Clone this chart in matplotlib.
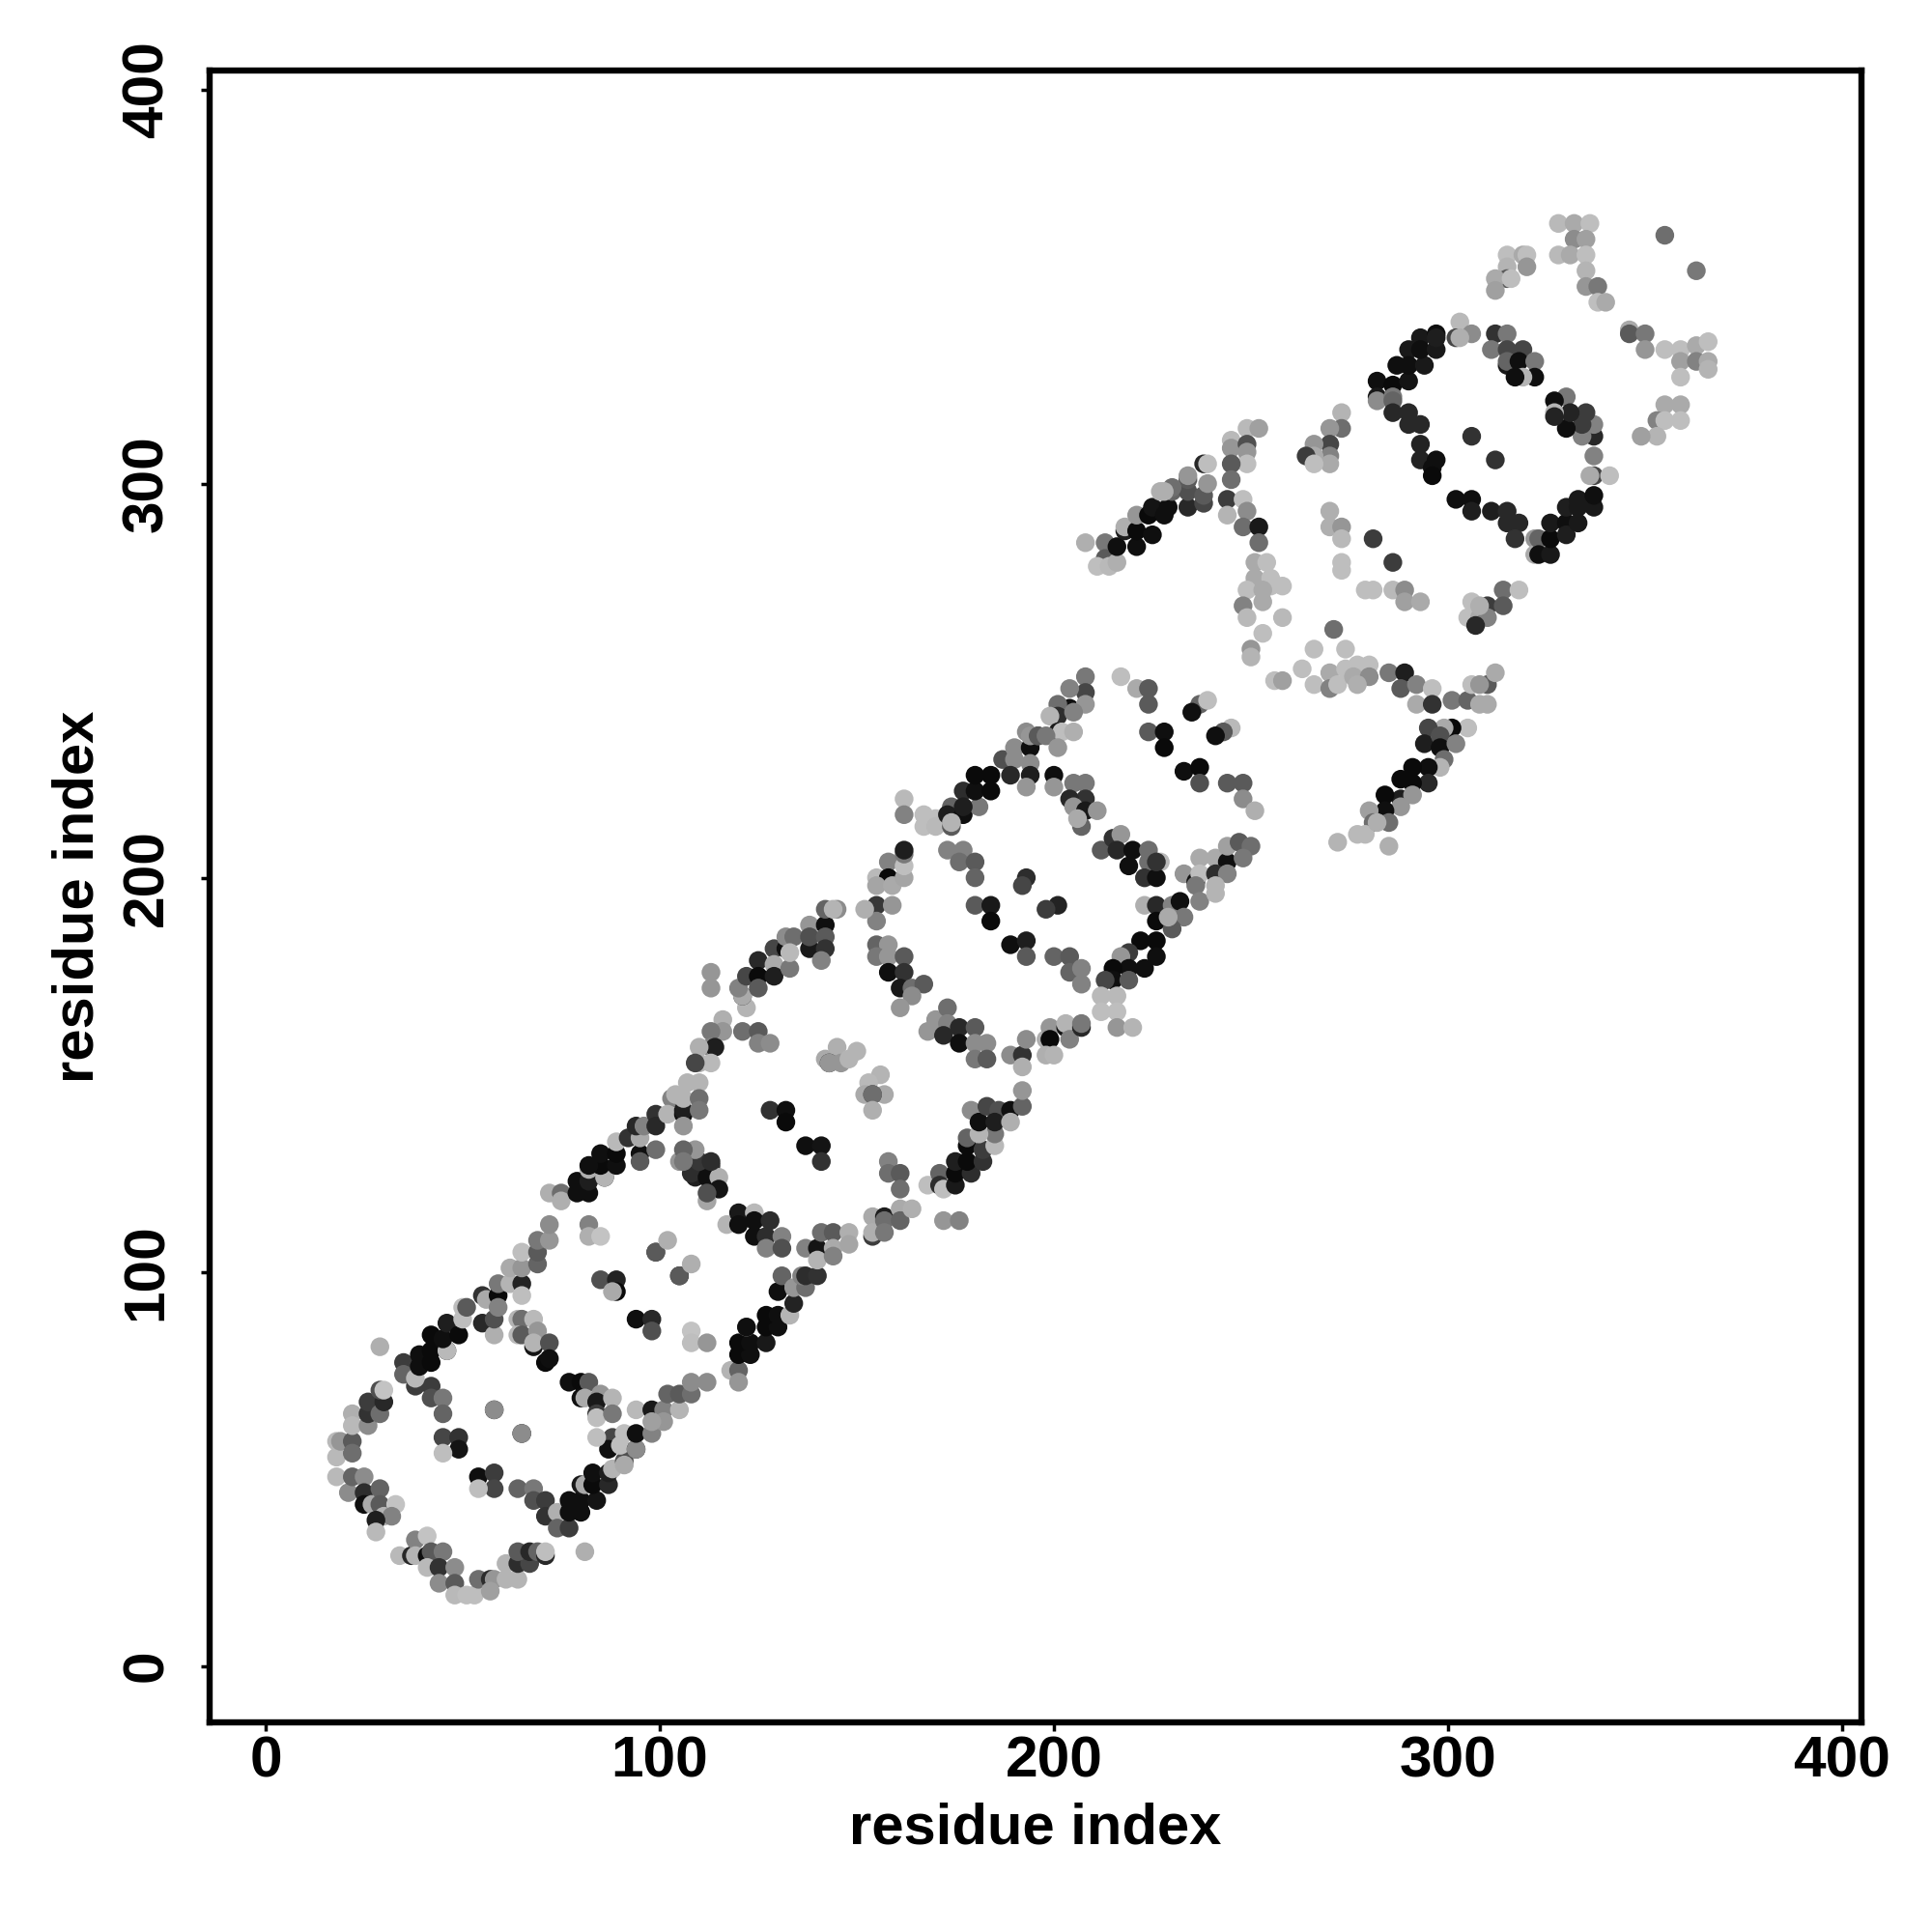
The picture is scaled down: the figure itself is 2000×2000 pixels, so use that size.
import matplotlib
matplotlib.use('Agg')
import matplotlib.pyplot as plt

plt.rcParams['font.family'] = ['Liberation Sans', 'DejaVu Sans']
plt.rcParams['font.weight'] = 'bold'

# each point is (residue i, residue j, grey level 0-255)
first_loop = [
    (18,53,185),(18,48,185),(18,57,185),(19,57,150),(22,57,90),(22,54,110),(22,64,175),(22,61,185),
    (26,61,140),(26,64,50),(26,67,60),(29,64,110),(30,67,40),(29,70,80),(30,70,195),
    (21,44,140),(22,48,100),(25,48,140),(25,44,45),(25,41,15),(27,41,170),(29,45,100),(29,41,90),
    (33,41,195),(30,38,180),(32,38,130),(28,37,30),(28,34,185),
    (34,28,185),(37,28,40),(38,32,130),(41,33,195),(38,28,180),(41,28,15),(42,29,90),(45,29,120),
    (41,25,185),(44,25,50),(48,25,140),(44,21,140),(48,21,90),(48,18,185),(51,18,190),(53,18,190),
    (54,22,110),(57,22,45),(58,22,150),(57,19,160),(61,22,180),(64,22,180),(61,26,180),(64,26,45),
    (67,26,70),(64,29,90),(67,29,40),(69,29,100),(71,28,40),(71,29,190),(81,29,175),
    (58,65,15),(58,65,140),(65,59,15),(65,59,140),(45,58,70),(49,58,50),(49,55,20),(45,54,190),
    (54,48,15),(58,49,60),(58,45,70),(54,45,190),(64,45,100),(68,45,120),(68,42,80),(71,42,60),
    (71,38,50),(74,39,175),(74,35,100),(77,35,60),(77,39,15),
]

first_lower_band = [
    (77,42,15),(80,42,15),(80,39,15),(84,42,20),(80,46,25),(81,46,170),(83,46,10),(83,49,15),
    (87,46,40),(87,49,30),(88,50,180),(91,52,80),(91,51,170),(88,58,70),(87,55,15),(90,56,190),
    (84,58,190),(91,59,190),(94,55,40),(94,55,140),(94,59,15),(98,59,130),(94,65,185),(98,65,25),
    (101,65,130),(101,62,150),(98,62,160),(105,65,180),(102,69,100),(105,69,90),(108,69,110),
    (108,72,140),(112,72,140),(118,75,180),(120,75,100),(120,72,150),(120,79,10),(123,79,15),
    (120,82,10),(123,82,15),(127,82,25),(122,86,170),(122,86,15),(127,86,10),(130,86,15),
    (127,89,10),(130,89,15),(133,89,180),(130,95,15),(131,99,100),(134,92,35),(134,96,150),
    (137,96,110),(136,99,130),(137,99,45),(140,99,50),
]

first_upper_band = [
    (29,81,175),(35,77,60),(35,74,100),(38,71,60),(42,71,60),(42,68,80),(45,68,120),(45,64,100),
    (38,73,185),(39,76,15),(39,79,15),(42,77,10),(42,80,10),(42,84,10),(46,80,30),(46,80,185),
    (45,83,15),(46,87,30),(49,84,10),(50,88,190),(50,91,190),(51,91,90),(55,87,40),(58,84,175),
    (58,88,80),(55,94,50),(56,93,170),(59,94,10),(59,91,130),(59,97,120),(62,97,180),(65,97,35),
    (65,94,190),(62,101,170),(65,101,150),(65,105,190),(69,102,100),(69,105,90),(69,108,120),
    (72,108,150),(72,112,140),(72,120,175),(75,120,110),(75,118,175),(79,120,15),(79,123,15),
    (82,120,15),(82,123,30),(86,124,25),(86,124,180),(82,126,175),(85,127,10),(82,127,15),
    (85,130,15),(89,127,15),(89,130,10),(89,133,185),(92,134,50),(95,130,15),(95,134,170),
    (94,137,40),(96,137,130),(99,140,50),(99,137,40),(99,131,110),(95,128,90),
]

first_inner = [
    (82,112,130),(82,109,175),(85,109,195),(85,98,80),(89,98,35),(89,95,10),(88,95,170),(99,105,40),
    (99,105,90),(102,108,175),(105,99,15),(105,99,90),(108,102,175),(94,88,15),(98,88,40),(98,85,80),
    (108,85,195),(108,82,190),(112,82,150),(64,88,180),(65,88,110),(68,88,185),(64,84,185),(65,84,90),
    (69,85,150),(68,81,20),(68,82,180),(72,82,80),(71,77,10),(72,78,15),(77,72,15),(80,72,10),(82,72,90),
    (80,68,15),(81,68,170),(85,69,150),(84,67,25),(88,68,180),(84,64,60),(84,63,190),(88,64,120),
]

second_loop = [
    (109,124,30),(108,125,45),(113,127,50),(112,124,15),(115,124,175),(115,121,20),(112,118,165),
    (112,120,80),(117,112,180),(120,115,25),(120,112,15),(124,115,185),(124,113,15),(128,113,45),
    (124,109,15),(127,109,45),(131,109,130),(127,106,130),(131,106,80),(105,128,150),(110,128,55),
    (113,128,45),(109,131,150),(106,131,100),(106,128,120),
    (103,144,130),(102,140,180),(106,140,15),(106,141,30),(106,137,150),(104,145,180),(106,144,180),
    (107,148,180),(110,148,180),(110,144,110),(110,141,120),
    (113,176,150),(113,172,150),(122,167,180),(121,170,40),(121,170,170),(120,172,130),(122,175,70),
    (125,179,40),(125,175,10),(125,172,90),(129,182,70),(129,178,170),(129,175,30),(132,182,15),
    (133,177,120),(132,185,140),(134,185,110),(133,181,185),(138,188,150),(138,182,25),(138,185,80),
    (142,188,15),(142,192,100),(142,185,90),(142,182,50),(141,179,130),(145,192,140),(144,192,180),
    (116,164,175),(116,161,150),(113,161,120),(113,157,130),(114,157,30),(110,157,175),(110,153,180),
    (113,153,185),(109,153,70),(121,161,110),(125,161,90),(125,158,130),(128,158,140),
    (142,154,170),(145,157,175),(143,153,30),(143,153,150),(146,153,150),(148,154,180),(150,156,180),
    (156,150,180),(153,148,185),(152,145,170),(157,145,170),(154,145,60),(154,145,110),(154,141,175),
    (128,141,50),(132,141,15),(132,138,10),(137,132,15),(141,132,20),(141,128,50),
    (137,106,130),(140,106,20),(140,103,180),(141,110,110),(144,110,90),(144,106,170),(144,104,130),
    (148,110,175),(148,107,165),
    (154,109,60),(154,114,170),(154,110,175),(157,114,30),(157,113,110),(157,110,120),(161,116,170),
    (161,113,100),(164,116,175),(172,113,150),(176,113,130),
    (158,128,130),(158,125,110),(161,125,90),(161,121,110),(168,122,190),
    (171,125,100),(171,122,45),(172,121,190),(175,122,25),(175,125,10),(179,125,45),(175,128,30),
    (178,128,10),(182,128,50),(178,132,10),(182,131,60),(185,132,185),(185,135,120),(178,134,100),
    (181,135,180),(179,141,140),(181,138,15),(183,142,70),(186,141,80),(185,138,30),(189,141,15),
    (189,138,175),(192,142,100),(192,146,150),
]

third_loop = [
    (155,193,55),(155,189,130),(152,192,175),(159,193,150),(155,183,100),(158,183,150),(155,180,120),
    (158,180,150),(158,176,15),(162,180,90),(162,176,50),(161,172,25),(164,172,110),(167,173,90),
    (164,170,140),(161,167,150),(158,204,130),(155,200,185),(158,200,10),(155,198,165),(159,198,170),
    (162,200,165),(162,203,190),(162,206,120),(162,207,30),
    (162,220,185),(162,216,130),(167,216,190),(167,213,190),(170,215,190),(170,213,185),(174,218,100),
    (174,213,90),(173,216,30),(177,222,45),(177,216,15),(174,214,180),(181,218,120),(180,222,15),
    (180,226,10),(184,222,10),(184,226,10),(177,218,30),(187,230,80),(190,233,140),(194,233,15),
    (190,230,140),(194,229,140),(189,226,40),(194,226,30),(193,223,150),(196,236,80),(193,237,140),
    (200,226,15),(200,223,150),(205,224,120),(208,224,120),(208,220,50),(204,220,40),(205,218,150),
    (208,217,25),(211,217,150),(207,213,100),(206,215,170),
    (173,207,130),(177,207,130),(176,204,110),(180,204,90),(180,200,100),(193,200,45),(192,198,70),
    (180,193,90),(184,193,25),(184,189,10),(201,193,35),(198,192,60),(189,183,15),(193,184,30),
    (193,180,90),(200,180,100),(204,180,90),(204,176,100),(207,177,130),(207,173,130),
    (212,207,90),(215,210,50),(217,211,150),(216,207,40),(220,207,15),(224,207,110),(219,203,15),
    (224,204,110),(223,200,175),(223,200,50),(227,204,185),(226,200,15),(226,204,50),(223,193,175),
    (226,193,40),(226,189,10),(222,184,10),(226,184,10),(226,180,15),(219,181,60),(217,180,150),
    (223,177,15),(219,177,15),(215,177,10),(215,174,15),(219,174,90),(213,174,70),(212,170,185),
    (216,170,185),(212,166,190),(216,166,190),(216,162,150),(220,162,180),
    (168,161,150),(170,164,150),(173,167,110),(173,163,130),(172,160,40),(176,162,40),(176,158,15),
    (180,162,90),(180,158,140),(183,158,140),(180,154,120),(183,154,90),(189,155,140),(192,155,50),
    (192,152,175),(193,159,140),(198,159,175),(199,162,150),(199,159,10),(198,155,175),(200,155,180),
    (203,162,20),(203,163,180),(204,159,130),(207,162,40),(207,163,120),
]

third_upper = [
    (208,285,175),(213,285,120),(213,281,90),(211,279,190),(214,279,185),(216,280,175),(216,284,15),
    (218,288,30),(218,289,175),(221,284,15),(221,288,10),(221,292,150),(225,287,15),(224,292,10),
    (225,294,20),(228,292,15),(229,294,15),(227,298,175),(230,298,100),(234,294,40),(234,298,80),
    (234,301,90),(234,302,150),(238,295,70),(238,297,90),(239,300,150),(238,305,40),(239,305,190),
    (230,299,110),(228,298,175),
    (208,251,120),(208,247,70),(204,248,130),(204,243,15),(208,244,150),(201,244,110),(201,241,45),
    (205,242,130),(199,241,180),(194,236,150),(196,236,90),(201,237,25),(202,237,190),(205,237,175),
    (198,236,120),(201,233,150),
    (217,251,190),(221,248,170),(224,248,90),(224,244,90),(224,237,90),(228,237,15),(228,233,10),
    (237,244,100),(239,245,190),(235,242,15),(245,238,185),(243,237,90),(241,236,15),
    (233,227,15),(237,228,10),(237,224,80),(244,224,90),(248,224,90),(248,220,140),(251,217,175),
    (233,201,150),(237,205,170),(236,199,20),(237,201,190),(236,198,120),(237,194,130),
    (241,196,180),(241,205,170),(244,204,15),(241,201,45),(244,201,130),(241,198,180),(244,208,160),
    (247,209,90),(250,208,110),(248,205,120),
    (230,193,130),(232,194,15),(233,190,120),(230,187,90),(229,190,170),
]

gap_region = [
    (245,311,185),(245,309,150),(249,314,185),(252,314,160),(249,310,80),(249,308,150),(249,305,190),
    (245,305,90),(245,301,110),(244,296,60),(248,296,190),(244,292,180),(249,293,140),(248,289,110),
    (252,289,25),(252,285,110),
    (270,293,175),(270,289,175),(273,289,150),(273,286,185),(281,286,60),(286,280,60),(273,280,190),
    (273,278,190),(279,273,190),(281,273,190),(286,273,185),(289,273,140),(289,270,160),(293,270,170),
    (251,280,170),(254,280,190),(251,276,170),(255,276,190),(255,274,190),(258,274,190),(249,273,190),
    (253,273,170),(253,270,170),(248,269,130),(249,266,185),(258,266,185),(253,262,190),(250,258,150),
    (250,256,180),(271,263,110),(266,258,190),(274,258,190),(256,250,190),(258,250,160),(263,253,190),
    (266,249,190),(270,252,170),(270,248,130),(272,249,190),(274,253,190),(277,254,190),(276,251,170),
    (280,254,190),(280,251,140),(277,249,175),(285,252,120),(289,252,30),(288,248,90),(292,249,130),
    (296,248,190),(292,244,170),(296,244,50),(301,245,120),(305,245,100),(308,244,170),(310,244,170),
    (306,249,190),(310,249,90),(312,252,170),(308,249,150),
    (305,238,190),(301,238,10),(299,238,170),(295,238,70),(294,234,30),(298,236,80),(298,233,15),
    (302,234,130),(299,230,110),(298,228,180),(295,228,15),(295,224,40),(291,228,10),(291,224,10),
    (288,225,10),(288,220,30),(291,221,150),(284,221,10),(288,218,150),(284,217,15),(280,217,160),
    (281,214,110),(285,214,110),(279,211,185),(277,211,185),(272,209,180),(285,208,175),(282,214,175),
]

last_loop = [
    (273,318,180),(273,314,110),(270,314,150),(270,310,70),(266,310,150),(270,307,130),(266,307,170),
    (270,305,170),(264,307,60),(266,305,190),
    (282,326,15),(282,322,25),(282,321,140),(286,325,10),(286,322,120),(286,321,100),(287,330,15),
    (290,326,20),(290,334,25),(290,330,15),(294,330,25),(293,337,25),(293,334,15),(297,334,25),
    (297,338,15),(297,337,30),(303,341,185),(302,337,70),(306,338,140),(303,337,175),
    (286,318,40),(290,318,40),(290,315,40),(293,315,40),(293,310,35),(293,306,35),(297,306,15),
    (296,304,15),(296,302,10),(306,312,50),(312,306,50),(302,296,15),(306,296,15),(306,293,30),
    (311,293,30),(315,293,40),(315,290,40),(318,290,40),(317,286,50),(322,286,150),(322,282,170),
    (323,286,100),(323,282,15),(326,282,25),(326,286,10),(326,290,25),(330,290,15),(330,287,30),
    (330,294,30),(333,290,25),(333,294,25),(333,296,25),(337,294,25),(337,297,15),
    (337,302,70),(341,302,190),(337,307,130),(336,302,170),(337,312,40),(334,312,130),(337,315,130),
    (335,318,60),(334,315,60),(330,314,15),(330,322,120),(331,318,35),(327,321,15),(327,318,180),
    (327,317,35),(312,338,50),(311,334,120),(315,338,120),(315,334,70),(319,334,70),(315,330,25),
    (315,331,100),(318,331,15),(322,331,120),(322,327,15),(319,327,180),(317,327,15),
    (328,366,185),(332,366,170),(336,366,190),(332,362,140),(335,362,160),(328,358,185),(331,358,170),
    (335,358,190),(335,354,180),(355,363,110),(363,354,120),(335,350,150),(338,350,120),(338,346,190),
    (340,346,170),(315,358,190),(319,358,170),(320,358,190),(315,355,180),(320,355,150),(315,352,90),
    (312,352,170),(312,349,160),(316,352,190),
    (346,339,170),(346,338,90),(350,338,120),(350,334,150),(355,334,190),(359,334,190),(359,331,160),
    (363,335,170),(363,331,130),(366,336,190),(366,331,170),(359,327,190),(366,329,180),
    (355,320,170),(359,320,170),(353,316,130),(355,316,190),(359,316,190),(353,312,180),(349,312,160),
    (314,273,110),(318,273,190),(310,269,60),(314,269,90),(306,270,190),(305,266,190),(308,266,170),
    (310,266,130),(308,269,175),(307,264,40),
]

point_groups = [first_loop, first_lower_band, first_upper_band, first_inner, second_loop,
                third_loop, third_upper, gap_region, last_loop]

x_ticks = [0, 100, 200, 300, 400]
y_ticks = [0, 100, 200, 300, 400]

fig = plt.figure(figsize=(20, 20), dpi=100)
ax = fig.add_axes([217/2000, 217/2000, 1710/2000, 1710/2000])

for points in point_groups:
    xs = [p[0] for p in points]
    ys = [p[1] for p in points]
    levels = [p[2] for p in points]
    ax.scatter(xs, ys, c=levels, cmap='gray', vmin=0, vmax=255, s=195, linewidths=0, zorder=2)

ax.set_xlim(-14.2, 404.9)
ax.set_ylim(-14.3, 404.8)
ax.set_xticks(x_ticks)
ax.set_yticks(y_ticks)
ax.tick_params(axis='x', length=6.5, width=2.5, pad=3.5, labelsize=43.5)
ax.tick_params(axis='y', length=6.5, width=2.5, pad=20, labelsize=43.5)
for lab in ax.get_yticklabels():
    lab.set_rotation(90)
    lab.set_va('center')

for sp in ax.spines.values():
    sp.set_linewidth(4.6)

ax.set_xlabel('residue index', fontsize=43, fontweight='bold')
ax.set_ylabel('residue index', fontsize=43, fontweight='bold')
ax.xaxis.set_label_coords(0.5, -0.0645)
ax.yaxis.set_label_coords(-0.0795, 0.5)
ax.xaxis.label.set_va('center')
ax.yaxis.label.set_va('center')

plt.savefig('out.png', dpi=100, facecolor='white')
